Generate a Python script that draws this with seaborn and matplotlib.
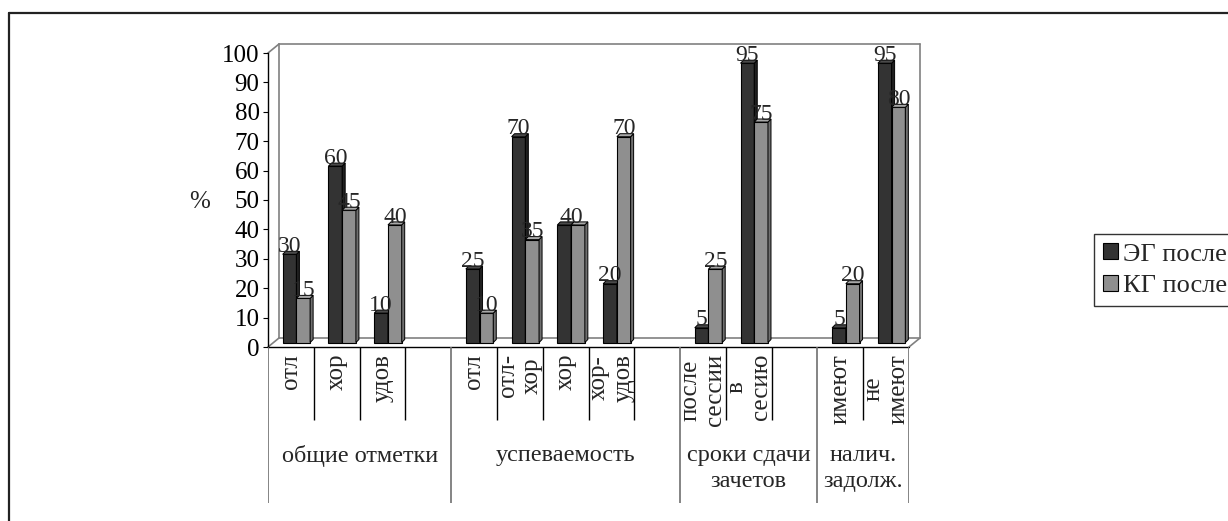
import matplotlib
matplotlib.use("Agg")
import matplotlib.pyplot as plt
import matplotlib.transforms as mtransforms
from matplotlib.patches import Polygon
from matplotlib.lines import Line2D
import pandas as pd
import seaborn as sns

# ---- data ----
groups = ["общие отметки", "успеваемость", "сроки сдачи\nзачетов", "налич.\nзадолж."]
group_items = [
    ["отл", "хор", "удов", ""],
    ["отл", "отл-\nхор", "хор", "хор-\nудов", ""],
    ["после\nсессии", "в\nсесию", ""],
    ["имеют", "не\nимеют"],
]
eg_values = [[30, 60, 10, None], [25, 70, 40, 20, None], [5, 95, None], [5, 95]]
kg_values = [[15, 45, 40, None], [10, 35, 40, 70, None], [25, 75, None], [20, 80]]
series_names = ["ЭГ после", "КГ после"]
yticks = list(range(0, 101, 10))

DARK = "#333333"
GREY = "#8f8f8f"

# ---- long-form table ----
keys, labels, rows = [], [], []
for gi, items in enumerate(group_items):
    for ii, item in enumerate(items):
        key = f"{gi}-{ii}"
        keys.append(key)
        labels.append(item)
        for name, vals in zip(series_names, (eg_values, kg_values)):
            v = vals[gi][ii]
            if v is not None:
                rows.append({"key": key, "series": name, "value": v})
df = pd.DataFrame(rows)
n_slots = len(keys)

sns.set_theme(style="white")
plt.rcParams["font.family"] = ["Liberation Serif", "DejaVu Serif"]

W, H = 1228, 521
fig = plt.figure(figsize=(W / 100, H / 100), dpi=100)


def fx(px):
    return px / W


def fy(py):
    return 1 - py / H


X0, X1, Y0, Y1 = 268, 909, 347, 53
ax = fig.add_axes([fx(X0), fy(Y0), (X1 - X0) / W, (Y0 - Y1) / H])
ax.set_facecolor("none")

sns.barplot(data=df, x="key", y="value", hue="series", order=keys,
            hue_order=series_names, palette=[DARK, GREY], width=0.6,
            saturation=1, edgecolor="black", linewidth=0.8, errorbar=None,
            ax=ax)
handles, leg_labels = ax.get_legend_handles_labels()
if ax.get_legend() is not None:
    ax.get_legend().remove()

ax.set_xlim(-0.5, n_slots - 0.5)
ax.set_ylim(0, 100)
ax.set_xticks([])
ax.set_xlabel("")
ax.set_ylabel("")
ax.set_yticks(yticks)
ax.tick_params(axis="y", left=True, length=3.6, width=0.8, pad=2.5,
               labelsize=18, colors="black", direction="out")
for s in ("top", "right", "bottom"):
    ax.spines[s].set_visible(False)
ax.spines["left"].set_color("black")
ax.spines["left"].set_linewidth(1.0)

# data units per pixel
ux = n_slots / (X1 - X0)
uy = 100 / (Y0 - Y1)

# depth of the box and the mid-depth shift of the columns
DEPTH_X, DEPTH_Y = 11, 9
shift = mtransforms.ScaledTranslation(DEPTH_X / 200, DEPTH_Y / 200, fig.dpi_scale_trans)
bar_tr = ax.transData + shift

# back wall and floor
wall = dict(color="#808080", lw=1.2, clip_on=False, zorder=0.5)
bx, by = DEPTH_X * ux, DEPTH_Y * uy
xl, xr = -0.5, n_slots - 0.5
ax.plot([xl + bx, xl + bx], [by, 100 + by], **wall)
ax.plot([xl + bx, xr + bx], [100 + by, 100 + by], **wall)
ax.plot([xr + bx, xr + bx], [by, 100 + by], **wall)
ax.plot([xl + bx, xr + bx], [by, by], **wall)
ax.plot([xl, xl + bx], [100, 100 + by], **wall)
ax.plot([xl, xl + bx], [0, by], **wall)
ax.plot([xr, xr + bx], [0, by], **wall)
ax.plot([xl, xr], [0, 0], color="black", lw=1.0, clip_on=False, zorder=0.6)

# columns with side and top faces
bars = [p for p in ax.patches if p.get_width() > 0 and p.get_height() > 0]
bars.sort(key=lambda p: p.get_x())
sx, sy = 3 * ux, 3 * uy
for i, p in enumerate(bars):
    z = 2 + i * 0.01
    x0 = p.get_x()
    x1 = x0 + p.get_width()
    top = p.get_height()
    dark = abs(p.get_facecolor()[0] - 0.2) < 0.05
    side_c = "#202020" if dark else "#6f6f6f"
    top_c = "#4a4a4a" if dark else "#a8a8a8"
    p.set_transform(bar_tr)
    p.set_clip_on(False)
    p.set_zorder(z)
    side = Polygon([(x1, 0), (x1 + sx, sy), (x1 + sx, top + sy), (x1, top)],
                   closed=True, facecolor=side_c, edgecolor="black", lw=0.7,
                   transform=bar_tr, clip_on=False, zorder=z)
    cap = Polygon([(x0, top), (x1, top), (x1 + sx, top + sy), (x0 + sx, top + sy)],
                  closed=True, facecolor=top_c, edgecolor="black", lw=0.7,
                  transform=bar_tr, clip_on=False, zorder=z)
    ax.add_patch(side)
    ax.add_patch(cap)

# value labels
VAL_FS = 17
k = 0
for gi, items in enumerate(group_items):
    for ii in range(len(items)):
        e, g = eg_values[gi][ii], kg_values[gi][ii]
        if e is not None and g is not None and e == g:
            ax.text(k, e + 0.8, f"{e}", ha="center", va="baseline", fontsize=VAL_FS,
                    transform=bar_tr, zorder=5)
        else:
            if e is not None:
                ax.text(k - 0.15, e + 0.8, f"{e}", ha="center", va="baseline",
                        fontsize=VAL_FS, transform=bar_tr, zorder=5)
            if g is not None:
                ax.text(k + 0.15, g + 0.8, f"{g}", ha="center", va="baseline",
                        fontsize=VAL_FS, transform=bar_tr, zorder=5)
        k += 1

# category table under the plot
TB = 503
tax = fig.add_axes([fx(X0), fy(TB), (X1 - X0) / W, (TB - Y0) / H])
tax.set_xlim(-0.5, n_slots - 0.5)
tax.set_ylim(TB, Y0)
tax.axis("off")

group_edges = [-0.5]
for items in group_items:
    group_edges.append(group_edges[-1] + len(items))
inner = [b for b in [i + 0.5 for i in range(n_slots - 1)] if b not in group_edges]
tax.vlines(inner, Y0, 420, color="black", lw=1.0)
tax.vlines(group_edges, Y0, TB, color="#707070", lw=1.2)

for i, lab in enumerate(labels):
    if lab:
        tax.text(i, 354, lab, rotation=90, ha="center", va="top",
                 multialignment="center", linespacing=1.15, fontsize=18)

for gi, name in enumerate(groups):
    c = (group_edges[gi] + group_edges[gi + 1]) / 2
    tax.text(c, 445, name, ha="center", va="top", linespacing=1.3, fontsize=17.5)

# axis caption
fig.text(fx(200), fy(202), "%", ha="center", va="center", fontsize=18)

# legend
leg = fig.legend(handles, leg_labels, loc="upper left",
                 bbox_to_anchor=(fx(1094), fy(234)), frameon=True,
                 fancybox=False, edgecolor="black", fontsize=19,
                 handlelength=0.55, handleheight=0.55, handletextpad=0.2,
                 labelspacing=0.35, borderpad=0.35, borderaxespad=0)
leg.get_frame().set_linewidth(1.0)
for h in leg.legend_handles:
    h.set_edgecolor("black")
    h.set_linewidth(0.8)

# outer frame
fig.add_artist(Line2D([fx(9), fx(9)], [fy(13), 0], transform=fig.transFigure,
                      color="#222222", lw=1.6))
fig.add_artist(Line2D([fx(9), 1], [fy(13), fy(13)], transform=fig.transFigure,
                      color="#222222", lw=1.6))

fig.savefig("out.png", dpi=100)
